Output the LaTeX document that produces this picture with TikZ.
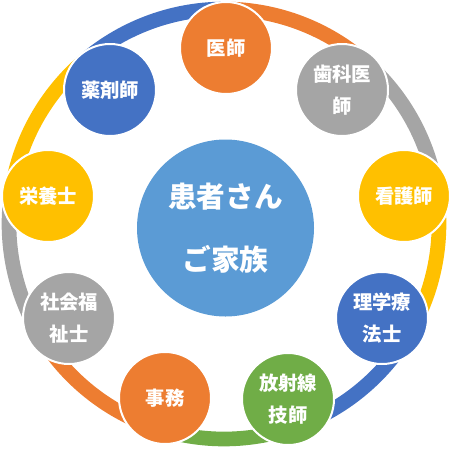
\documentclass[tikz,border=0pt]{standalone}
\usepackage{fontspec}
\newfontfamily\jpfont{Noto Sans CJK JP}
\definecolor{cOrange}{RGB}{237,125,49}
\definecolor{cGray}{RGB}{165,165,165}
\definecolor{cYellow}{RGB}{255,192,0}
\definecolor{cBlue}{RGB}{68,114,196}
\definecolor{cGreen}{RGB}{112,173,71}
\definecolor{cCenter}{RGB}{91,155,213}
\tikzset{every picture/.style={line width=0.75pt}}
\tikzset{
  staff/.style={circle, fill=#1, draw=white, line width=1.5, inner sep=0pt, minimum size=69pt,
    text=white, align=center, font=\jpfont\bfseries\fontsize{14.5}{24}\selectfont},
  ringarc/.style={draw=#1, line width=11}
}

\begin{document}
\begin{tikzpicture}[x=0.75pt,y=0.75pt,yscale=-1,xscale=1]
\useasboundingbox (0,0) rectangle (452,450);

%Ring centre
\coordinate (ringc) at (224,224);

%Arcs between the nodes
\draw [ringarc=cOrange] ([shift={(-89.3:215)}]ringc) arc [start angle=-89.3, end angle=-48.6, radius=215];
\draw [ringarc=cGray] ([shift={(-48.6:215)}]ringc) arc [start angle=-48.6, end angle=-8.8, radius=215];
\draw [ringarc=cYellow] ([shift={(-8.8:215)}]ringc) arc [start angle=-8.8, end angle=30.7, radius=215];
\draw [ringarc=cBlue] ([shift={(30.7:215)}]ringc) arc [start angle=30.7, end angle=69.9, radius=215];
\draw [ringarc=cGreen] ([shift={(69.9:215)}]ringc) arc [start angle=69.9, end angle=108.7, radius=215];
\draw [ringarc=cOrange] ([shift={(108.7:215)}]ringc) arc [start angle=108.7, end angle=148.8, radius=215];
\draw [ringarc=cGray] ([shift={(148.8:215)}]ringc) arc [start angle=148.8, end angle=189, radius=215];
\draw [ringarc=cYellow] ([shift={(189:215)}]ringc) arc [start angle=189, end angle=229.6, radius=215];
\draw [ringarc=cBlue] ([shift={(229.6:215)}]ringc) arc [start angle=229.6, end angle=270.7, radius=215];

%Shape: Circle (centre)
\node [circle, fill=cCenter, inner sep=0pt, minimum size=132.75pt, text=white, align=center,
  font=\jpfont\bfseries\fontsize{21.5}{47}\selectfont] (family) at (225.5,228) {患者さん\\ご家族};

%Shape: Circles (staff)
\node [staff=cOrange] (doctor) at (226,48) {医師};
\node [staff=cGray] (dentist) at (342,90) {歯科医\\師};
\node [staff=cYellow] (nurse) at (404,196) {看護師};
\node [staff=cBlue] (physio) at (382,318) {理学療\\法士};
\node [staff=cGreen] (radio) at (288,399) {放射線\\技師};
\node [staff=cOrange] (office) at (165,398) {事務};
\node [staff=cGray] (social) at (69,318) {社会福\\祉士};
\node [staff=cYellow] (diet) at (48,196) {栄養士};
\node [staff=cBlue] (pharma) at (110,90) {薬剤師};

\end{tikzpicture}
\end{document}
